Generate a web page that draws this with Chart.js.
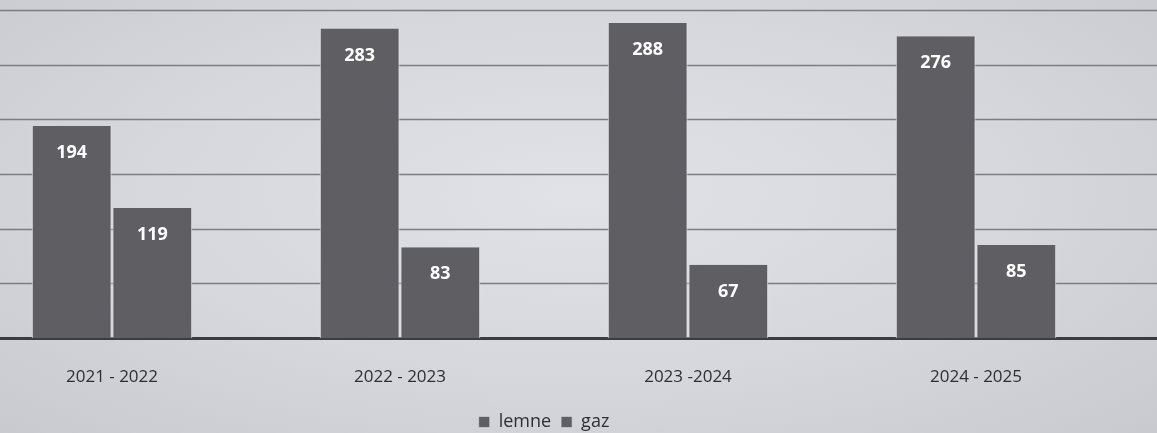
<!DOCTYPE html>
<html>
<head>
<meta charset="utf-8">
<script src="https://cdn.jsdelivr.net/npm/chart.js@4.4.1/dist/chart.umd.min.js"></script>
<style>
  html, body { margin: 0; padding: 0; }
  body {
    width: 1157px; height: 433px; overflow: hidden; position: relative;
    background: radial-gradient(ellipse at 50% 45%, #e1e2e7 0%, #d6d7dc 55%, #c9cacf 100%);
  }
  #wrap { position: absolute; left: -32px; top: 0; width: 1250px; height: 433px; }
</style>
</head>
<body>
<div id="wrap"><canvas id="grafik"></canvas></div>
<script>
const categories = ["2021 - 2022", "2022 - 2023", "2023 -2024", "2024 - 2025"];
const lemne = [194, 283, 288, 276];
const gaz = [119, 83, 67, 85];
const yTicks = [0, 50, 100, 150, 200, 250, 300];

const barColor = "#5e5e63";

// keep the legend strip a fixed height
const legendHeight = {
  id: "legendHeight",
  beforeInit(chart) {
    const fit = chart.legend.fit;
    chart.legend.fit = function () {
      fit.bind(chart.legend)();
      this.height = 30;
    };
  },
};

// full-width gridlines, drawn from the y scale
const gridPlugin = {
  id: "gridFull",
  beforeDatasetsDraw(chart) {
    const ctx = chart.ctx;
    const y = chart.scales.y;
    ctx.save();
    yTicks.forEach((t) => {
      const py = Math.round(y.getPixelForValue(t)) + 0.5;
      ctx.beginPath();
      ctx.moveTo(0, py);
      ctx.lineTo(chart.width, py);
      if (t === 0) {
        ctx.strokeStyle = "#3b3b40";
        ctx.lineWidth = 3;
      } else {
        ctx.strokeStyle = "#7c7d83";
        ctx.lineWidth = 1.6;
      }
      ctx.stroke();
    });
    ctx.restore();
  },
};

// value labels inside top of bars
const labelPlugin = {
  id: "barLabels",
  afterDatasetsDraw(chart) {
    const ctx = chart.ctx;
    ctx.save();
    ctx.font = "bold 18px 'Open Sans', sans-serif";
    ctx.fillStyle = "#ffffff";
    ctx.textAlign = "center";
    ctx.textBaseline = "middle";
    chart.data.datasets.forEach((ds, i) => {
      chart.getDatasetMeta(i).data.forEach((bar, j) => {
        ctx.fillText(ds.data[j], bar.x, bar.y + 27);
      });
    });
    ctx.restore();
  },
};

new Chart(document.getElementById("grafik"), {
  type: "bar",
  data: {
    labels: categories,
    datasets: [
      {
        label: "lemne",
        data: lemne,
        backgroundColor: barColor,
        borderColor: "#e4e5ea",
        borderWidth: { left: 1, right: 1, top: 0, bottom: 0 },
      },
      {
        label: "gaz",
        data: gaz,
        backgroundColor: barColor,
        borderColor: "#e4e5ea",
        borderWidth: { left: 1, right: 1, top: 0, bottom: 0 },
      },
    ],
  },
  plugins: [legendHeight, gridPlugin, labelPlugin],
  options: {
    responsive: true,
    maintainAspectRatio: false,
    animation: false,
    layout: { padding: { top: 10, right: 98, left: 0, bottom: 0 } },
    datasets: { bar: { categoryPercentage: 0.56, barPercentage: 0.99 } },
    scales: {
      x: {
        grid: { display: false, drawTicks: false },
        border: { display: false },
        ticks: {
          color: "#2e2e33",
          padding: 29,
          font: { family: "'Open Sans', sans-serif", size: 17 },
        },
        afterFit(scale) { scale.height = 65; },
      },
      y: {
        min: 0,
        max: 300,
        display: true,
        grid: { display: false },
        border: { display: false },
        ticks: { display: false, stepSize: 50 },
        afterFit(scale) { scale.width = 0; },
      },
    },
    plugins: {
      tooltip: { enabled: false },
      legend: {
        position: "bottom",
        labels: {
          color: "#2e2e33",
          boxWidth: 11,
          boxHeight: 11,
          padding: 10,
          font: { family: "'Open Sans', sans-serif", size: 18 },
        },
      },
    },
  },
});
</script>
</body>
</html>
